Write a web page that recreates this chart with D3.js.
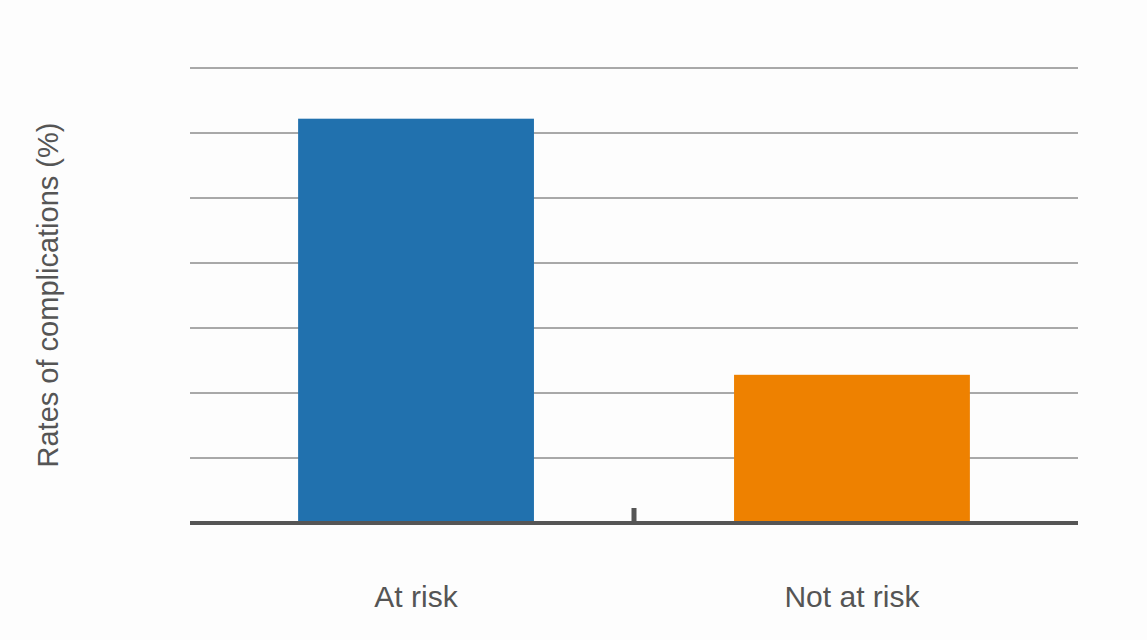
<!DOCTYPE html>
<html><head><meta charset="utf-8">
<script src="https://cdn.jsdelivr.net/npm/d3@7"></script>
<style>body{margin:0;background:#fdfdfd}text{font-family:"Liberation Sans",Arial,sans-serif}</style>
</head><body><svg id="c" width="1147" height="640"></svg>
<script>
var categories = ["At risk", "Not at risk"]
var values = [31.1, 11.4]
var colors = ["#2171ae", "#ee8100"]
var gridTicks = [5, 10, 15, 20, 25, 30, 35]

var svg = d3.select('#c')
var x = d3.scaleBand().domain(categories).range([190, 1078]).paddingInner(0.459).paddingOuter(0.248)
var y = d3.scaleLinear().domain([0, 35]).range([523, 68])

svg.selectAll('.grid').data(gridTicks).enter().append('line')
    .attr('x1', 190).attr('x2', 1078)
    .attr('y1', d => y(d)).attr('y2', d => y(d))
    .attr('stroke', '#555').attr('stroke-width', 1)

svg.selectAll('.bar').data(values).enter().append('rect')
    .attr('x', (d, i) => x(categories[i]))
    .attr('width', x.bandwidth())
    .attr('y', d => y(d))
    .attr('height', d => y(0) - y(d))
    .attr('fill', (d, i) => colors[i])

// small tick between the two categories
var mid = (x(categories[0]) + x.bandwidth() + x(categories[1])) / 2
svg.append('rect').attr('x', mid - 2.5).attr('y', y(0) - 15).attr('width', 5).attr('height', 13).attr('fill', '#555')

svg.append('line').attr('x1', 190).attr('x2', 1078).attr('y1', y(0)).attr('y2', y(0))
    .attr('stroke', '#555').attr('stroke-width', 4)

svg.selectAll('.lab').data(categories).enter().append('text')
    .attr('x', d => x(d) + x.bandwidth() / 2).attr('y', 607)
    .attr('text-anchor', 'middle').attr('font-size', 30).attr('fill', '#555')
    .text(d => d)

svg.append('text').attr('transform', 'translate(58,295) rotate(-90)')
    .attr('text-anchor', 'middle').attr('font-size', 29).attr('fill', '#555')
    .text('Rates of complications (%)')
</script></body></html>
